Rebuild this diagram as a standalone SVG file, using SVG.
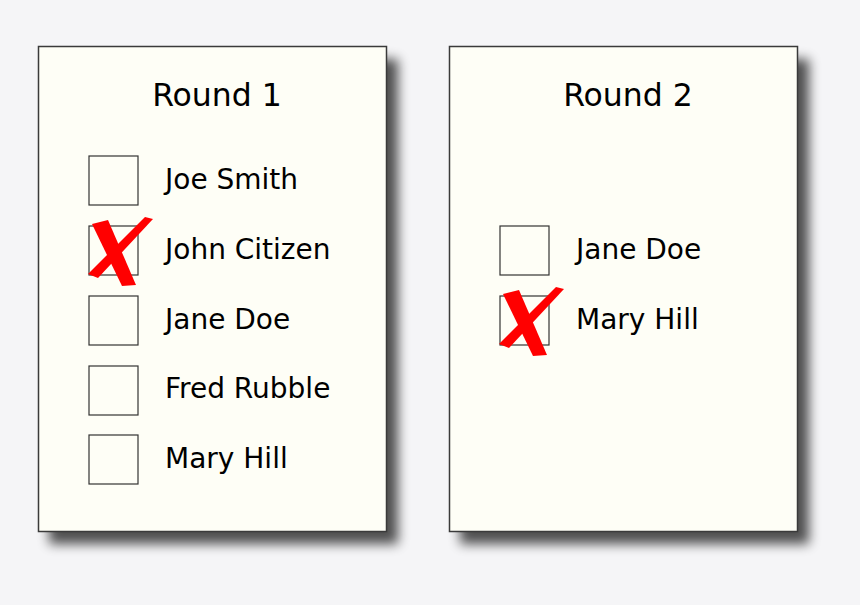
<svg xmlns="http://www.w3.org/2000/svg" xmlns:xlink="http://www.w3.org/1999/xlink" width="860" height="605" viewBox="0 0 860 605">
<defs>
<style>
.card{fill:#fefef6;stroke:#3a3a3a;stroke-width:1.5}
.shadow{fill:#000;opacity:0.68;filter:url(#blur)}
.box{fill:#fefef6;stroke:#333;stroke-width:1.2}
.title{font-family:"DejaVu Sans",sans-serif;font-size:31.5px;fill:#000;text-anchor:middle}
.name{font-family:"DejaVu Sans",sans-serif;font-size:28px;fill:#000}
.x{fill:#ff0000}
</style>
<filter id="blur" x="-15%" y="-15%" width="130%" height="130%">
<feGaussianBlur stdDeviation="6"/>
</filter>
<g id="xmark">
<polygon class="x" points="92,224 108,220 136,285 122,286"/>
<polygon class="x" points="88,274 98,278 153,219 145,217"/>
</g>
</defs>
<rect width="860" height="605" fill="#f5f5f7"/>
<g id="round1">
<rect class="shadow" x="49" y="59" width="349" height="485"/>
<rect class="card" x="38.5" y="46.5" width="348" height="485"/>
<text class="title" x="217" y="106">Round 1</text>
<g id="r1-joe"><rect class="box" x="89" y="156" width="49" height="49"/><text class="name" x="165" y="189">Joe Smith</text></g>
<g id="r1-john"><rect class="box" x="89" y="226" width="49" height="49"/><text class="name" x="165" y="259">John Citizen</text><use xlink:href="#xmark"/></g>
<g id="r1-jane"><rect class="box" x="89" y="296" width="49" height="49"/><text class="name" x="165" y="329">Jane Doe</text></g>
<g id="r1-fred"><rect class="box" x="89" y="366" width="49" height="49"/><text class="name" x="165" y="398">Fred Rubble</text></g>
<g id="r1-mary"><rect class="box" x="89" y="435" width="49" height="49"/><text class="name" x="165" y="468">Mary Hill</text></g>
</g>
<g id="round2">
<rect class="shadow" x="460" y="59" width="349" height="485"/>
<rect class="card" x="449.5" y="46.5" width="348" height="485"/>
<text class="title" x="628" y="106">Round 2</text>
<g id="r2-jane"><rect class="box" x="500" y="226" width="49" height="49"/><text class="name" x="576" y="259">Jane Doe</text></g>
<g id="r2-mary"><rect class="box" x="500" y="296" width="49" height="49"/><text class="name" x="576" y="329">Mary Hill</text><use xlink:href="#xmark" x="411" y="70"/></g>
</g>
<g id="connectors"/>
</svg>
